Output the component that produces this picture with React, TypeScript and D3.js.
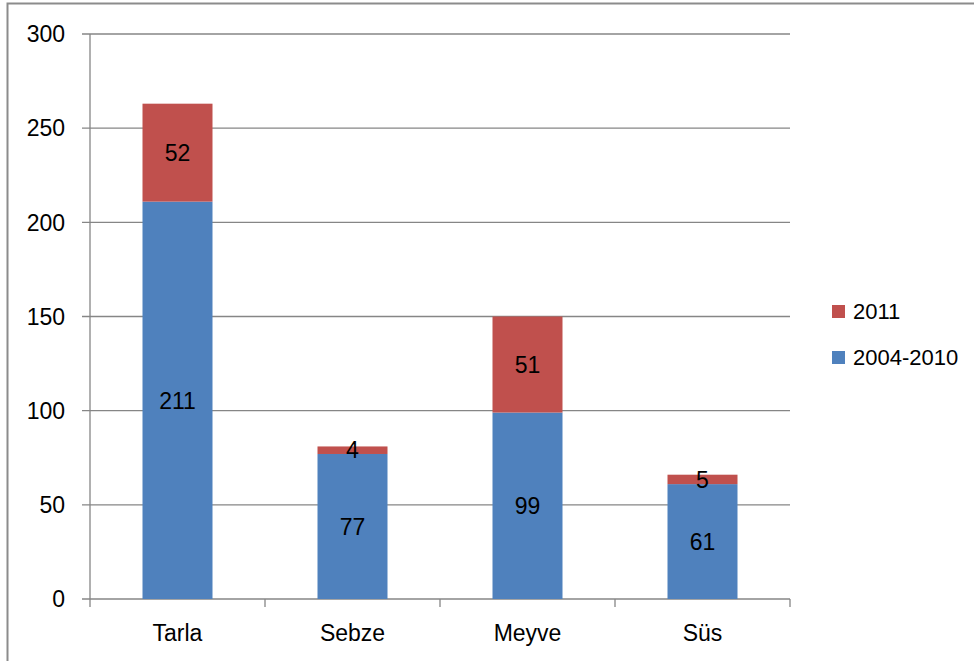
import React from 'react';
import { scaleBand, scaleLinear, stack } from 'd3';

const categories = ['Tarla', 'Sebze', 'Meyve', 'Süs'];
const series2004 = [211, 77, 99, 61];
const series2011 = [52, 4, 51, 5];
const seriesNames = ['2004-2010', '2011'];
const seriesColors = ['#4F81BD', '#C0504D'];
const yTicks = [0, 50, 100, 150, 200, 250, 300];

const font = "'Liberation Sans', Arial, sans-serif";
const fs = 23;
const grid = '#868686';

const App = () => {
  const rows = categories.map((c, i) => ({ cat: c, '2004-2010': series2004[i], '2011': series2011[i] }));
  const layers = stack().keys(seriesNames)(rows as any);

  const x = scaleBand().domain(categories).range([90, 790]).paddingInner(0.6).paddingOuter(0.3);
  const y = scaleLinear().domain([0, 300]).range([599, 34]);
  const step = x.step();

  return (
    <svg width={974} height={661} style={{ position: 'absolute', left: 0, top: 0, background: '#fff' }}>
      <rect x={7.5} y={3.5} width={1000} height={700} fill='none' stroke='#8c8c8c' strokeWidth={2} />

      {/* gridlines + y ticks */}
      {yTicks.map((t) => (
        <g key={t}>
          <line x1={82} x2={790} y1={y(t)} y2={y(t)} stroke={grid} strokeWidth={1.3} />
          <text x={65} y={y(t)} dy='0.36em' textAnchor='end' fontFamily={font} fontSize={fs} fill='#000'>
            {t}
          </text>
        </g>
      ))}
      <line x1={90} x2={90} y1={y(300)} y2={y(0)} stroke={grid} strokeWidth={1.3} />

      {/* x ticks at category boundaries */}
      {[...categories.map((c) => (x(c) as number) - step * 0.3), 790].map((v, i) => (
        <line key={i} x1={v} x2={v} y1={y(0)} y2={y(0) + 8} stroke={grid} strokeWidth={1.3} />
      ))}

      {/* bars */}
      {layers.map((layer, li) =>
        layer.map((d: any, i) => (
          <rect
            key={`${li}-${i}`}
            x={x(categories[i])}
            y={y(d[1])}
            width={x.bandwidth()}
            height={y(d[0]) - y(d[1])}
            fill={seriesColors[li]}
          />
        ))
      )}

      {/* value labels */}
      {layers.map((layer, li) =>
        layer.map((d: any, i) => (
          <text
            key={`l${li}-${i}`}
            x={(x(categories[i]) as number) + x.bandwidth() / 2}
            y={y((d[0] + d[1]) / 2)}
            dy='0.36em'
            textAnchor='middle'
            fontFamily={font}
            fontSize={fs}
            fill='#000'
          >
            {d[1] - d[0]}
          </text>
        ))
      )}

      {/* category labels */}
      {categories.map((c) => (
        <text
          key={c}
          x={(x(c) as number) + x.bandwidth() / 2}
          y={641}
          textAnchor='middle'
          fontFamily={font}
          fontSize={fs}
          fill='#000'
        >
          {c}
        </text>
      ))}

      {/* legend */}
      {[1, 0].map((si, k) => (
        <g key={si} transform={`translate(832, ${305 + k * 46})`}>
          <rect width={13} height={13} fill={seriesColors[si]} />
          <text x={21} y={6.5} dy='0.36em' fontFamily={font} fontSize={fs - 1} fill='#000'>
            {seriesNames[si]}
          </text>
        </g>
      ))}
    </svg>
  );
};

export default App;
